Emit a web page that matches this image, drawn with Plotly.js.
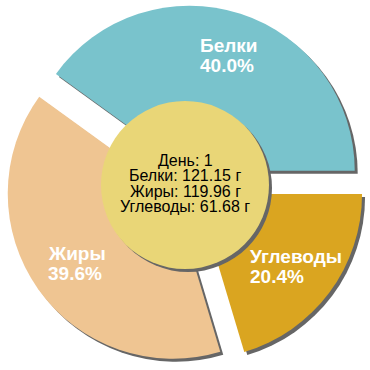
<!DOCTYPE html>
<html><head><meta charset="utf-8">
<script src="https://cdn.plot.ly/plotly-3.0.1.min.js"></script>
<style>html,body{margin:0;padding:0;background:#fff}#chart{width:370px;height:370px}</style>
</head><body><div id="chart"></div>
<script>
// ---- data ----
const labels = ['Белки', 'Жиры', 'Углеводы'];
const grams = [121.15, 119.96, 61.68];
const dayText = 'День: 1';
const unit = 'г';

// ---- styles ----
const colors = ['#79c3cc', '#efc592', '#daa520'];
const shadowColor = '#666666';
const centerColor = '#e9d677';

const W = 370, C = 185, HALF = 180, PULL = 0.09, SH = 3;
const CIRCLE_R = 84, LABEL_R = 136;
const px = v => v / W;           // pixel x -> paper
const py = v => 1 - v / W;       // pixel y -> paper

const total = grams.reduce((a, b) => a + b, 0);
const pct = grams.map(g => (g / total * 100).toFixed(1) + '%');
// first slice starts at 3 o'clock and runs counterclockwise
const rotation = 90 - grams[0] / total * 360;

const pieBase = {
  type: 'pie', values: grams, labels: labels, sort: false,
  direction: 'counterclockwise', rotation: rotation,
  pull: grams.map(() => PULL), textinfo: 'none', hoverinfo: 'skip',
  showlegend: false
};
const shadow = Object.assign({}, pieBase, {
  marker: {colors: grams.map(() => shadowColor), line: {width: 0}},
  domain: {x: [px(C - HALF + SH), px(C + HALF + SH)], y: [py(C + HALF + SH), py(C - HALF + SH)]}
});
const main = Object.assign({}, pieBase, {
  marker: {colors: colors, line: {width: 0}},
  domain: {x: [px(C - HALF), px(C + HALF)], y: [py(C + HALF), py(C - HALF)]}
});

// measure text for left-aligned label blocks
const cv = document.createElement('canvas').getContext('2d');
const LFONT = 19;
cv.font = 'bold ' + LFONT + 'px "Liberation Sans", Arial, sans-serif';

const annotations = [];
let cum = 0;
grams.forEach((g, i) => {
  const a = (cum + g / 2) / total * 2 * Math.PI;
  cum += g;
  const cx = C + LABEL_R * Math.cos(a);
  const cy = C - LABEL_R * Math.sin(a);
  const w = Math.max(cv.measureText(labels[i]).width, cv.measureText(pct[i]).width);
  const left = cx - w / 2;
  [[labels[i], cy - 10], [pct[i], cy + 10]].forEach(([t, y]) => {
    annotations.push({
      text: t, x: px(left), y: py(y), xref: 'paper', yref: 'paper',
      xanchor: 'left', yanchor: 'middle', showarrow: false,
      font: {family: '"Liberation Sans", Arial, sans-serif', size: LFONT, color: '#ffffff', weight: 'bold'}
    });
  });
});

const centerLines = [dayText].concat(labels.map((l, i) => l + ': ' + grams[i].toFixed(2) + ' ' + unit));
const LH = 15.5;
centerLines.forEach((t, i) => {
  const y = C - 1.5 + (i - (centerLines.length - 1) / 2) * LH;
  annotations.push({
    text: t, x: px(C), y: py(y), xref: 'paper', yref: 'paper',
    xanchor: 'center', yanchor: 'middle', showarrow: false,
    font: {family: '"Liberation Sans", Arial, sans-serif', size: 16, color: '#000000'}
  });
});

const shapes = [
  {type: 'circle', xref: 'paper', yref: 'paper', layer: 'above',
   x0: px(C - CIRCLE_R + SH), x1: px(C + CIRCLE_R + SH),
   y0: py(C + CIRCLE_R + SH), y1: py(C - CIRCLE_R + SH),
   fillcolor: shadowColor, line: {width: 0}},
  {type: 'circle', xref: 'paper', yref: 'paper', layer: 'above',
   x0: px(C - CIRCLE_R), x1: px(C + CIRCLE_R),
   y0: py(C + CIRCLE_R), y1: py(C - CIRCLE_R),
   fillcolor: centerColor, line: {width: 0}}
];

Plotly.newPlot('chart', [shadow, main], {
  width: W, height: W, margin: {l: 0, r: 0, t: 0, b: 0},
  paper_bgcolor: '#ffffff', showlegend: false,
  annotations: annotations, shapes: shapes
}, {staticPlot: true, displayModeBar: false});
</script></body></html>
